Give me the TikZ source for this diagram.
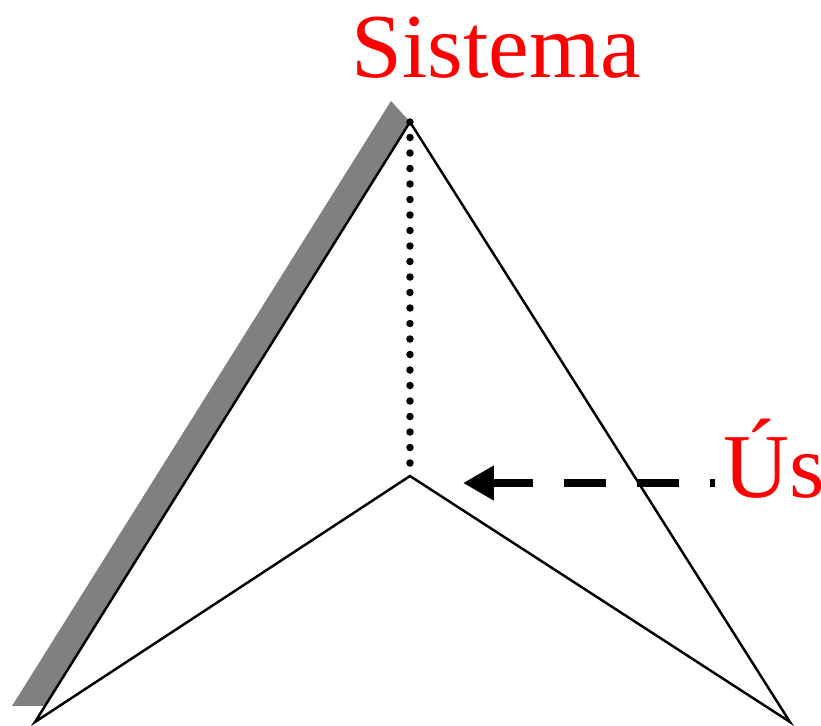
\documentclass[tikz,border=0pt]{standalone}
\usepackage{fontspec}
\setmainfont{Liberation Serif}
\usetikzlibrary{positioning, arrows.meta, calc}
\definecolor{LabelRed}{HTML}{FF0000}
\definecolor{ShadowGrey}{HTML}{808080}

\begin{document}
\begin{tikzpicture}[
  x=0.1mm, y=-0.1mm,
  label/.style={text=LabelRed, inner sep=0pt, font=\fontsize{26}{30}\selectfont},
  edge/.style={black, line width=0.7pt},
  axis/.style={black, line width=0.75mm, line cap=round, dash pattern=on 0pt off 1.55mm},
  usarrow/.style={-{Triangle[length=3.1mm, width=3.3mm]}, black, line width=0.8mm,
    dash pattern=on 4.2mm off 3.1mm, dash phase=3.7mm}
]
  \useasboundingbox (0,0) rectangle (821,726);

  % Corners of the figure
  \coordinate (apex) at (410,122);
  \coordinate (left) at (35,722);
  \coordinate (right) at (790,722);
  \coordinate (mid) at (410,476);

  % Shadow along the left side
  \fill[ShadowGrey] (391,101) -- (apex) -- ($(apex)!0.973!(left)$) -- (12,706) -- cycle;

  % Outline
  \draw[edge] (apex) -- (left) -- (mid) -- (right) -- cycle;

  % Axis from the apex
  \draw[axis] (apex) -- (mid);

  % Labels
  \node[label, anchor=base] (sys) at (496,77) {Sistema};
  \node[label, anchor=base west] (us) at (723,497) {Ús};

  % Arrow from the label
  \coordinate (arrstart) at (715,483);
  \coordinate (arrend) at (463,483);
  \draw[usarrow] (arrstart) -- (arrend);
\end{tikzpicture}
\end{document}
